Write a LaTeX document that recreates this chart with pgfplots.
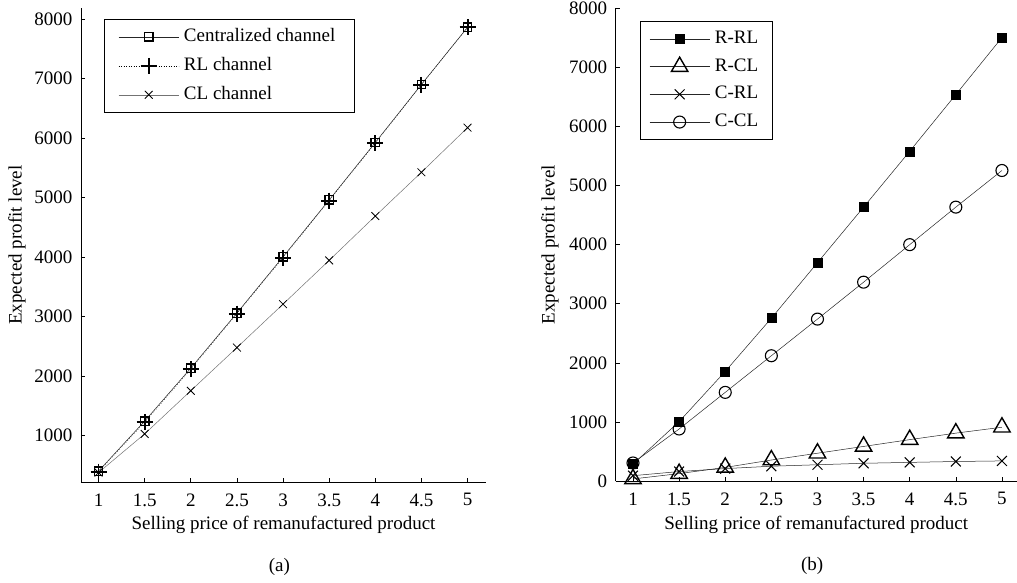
\documentclass[border=0pt]{standalone}
\usepackage{fontspec}
\setmainfont{Liberation Serif}
\usepackage{pgfplots}
\pgfplotsset{compat=1.18}
\pgfplotsset{
  mystyle/.style={
    scale only axis, clip=false,
    axis x line*=bottom, axis y line*=left,
    axis line style={black, line width=0.7pt, -},
    tick align=inside, major tick length=4pt,
    tick style={black, line width=0.6pt},
    xtick={1,1.5,2,2.5,3,3.5,4,4.5,5},
    ytick={0,1000,2000,3000,4000,5000,6000,7000,8000},
    scaled ticks=false,
    /pgf/number format/assume math mode=true,
    /pgf/number format/1000 sep={},
    ticklabel style={font=\fontsize{19}{22}\selectfont},
    label style={font=\fontsize{19}{22}\selectfont},
    xticklabel style={yshift=-5pt},
    yticklabel style={xshift=-2pt},
    legend cell align=left,
    legend style={draw=black, line width=0.8pt, fill=white,
      font=\fontsize{19}{22}\selectfont, anchor=north west,
      inner xsep=12pt, inner ysep=6pt,
      nodes={text height=13pt, text depth=4pt, inner ysep=3pt, inner xsep=5pt}, row sep=6pt},
    legend image code/.code={\draw[mark repeat=2,mark phase=2] plot coordinates {(0pt,0pt)(30pt,0pt)(60pt,0pt)};},
    every axis plot/.append style={line width=0.5pt},
  }
}
\begin{document}
\fontsize{19}{22}\selectfont
\begin{tikzpicture}[x=1pt,y=1pt]
\useasboundingbox (0,0) rectangle (1017,583);
\begin{axis}[mystyle,
  at={(81pt,101pt)}, anchor=south west,
  width=405pt, height=474pt,
  xmin=0.81, xmax=5.2, ymin=222, ymax=8185,
  ytick={1000,2000,3000,4000,5000,6000,7000,8000},
  xlabel={Selling price of remanufactured product},
  ylabel={Expected profit level},
  xlabel style={at={(axis description cs:0.5,-0.09)}, anchor=center},
  ylabel style={at={(axis description cs:-0.158,0.5)}, anchor=center},
  legend style={at={(0.057,0.977)}, inner xsep=14pt},
]
\addplot[black!85, mark=square, mark size=4.2pt, mark options={solid, black, line width=1.4pt}] coordinates {
(1,405)(1.5,1245)(2,2135)(2.5,3060)(3,4005)(3.5,4960)(4,5925)(4.5,6900)(5,7860)};
\addlegendentry{Centralized channel}
\addplot[black, dotted, mark=+, mark size=8pt, mark options={solid, black, line width=1.9pt}] coordinates {
(1,395)(1.5,1225)(2,2115)(2.5,3050)(3,3990)(3.5,4950)(4,5915)(4.5,6895)(5,7860)};
\addlegendentry{RL channel}
\addplot[black!55, mark=x, mark size=5.5pt, mark options={solid, black, line width=0.8pt}] coordinates {
(1,380)(1.5,1030)(2,1755)(2.5,2480)(3,3210)(3.5,3945)(4,4690)(4.5,5425)(5,6175)};
\addlegendentry{CL channel}
\node at (axis description cs:0.49,-0.179) {(a)};
\end{axis}
\begin{axis}[mystyle,
  at={(615.7pt,102pt)}, anchor=south west,
  width=401pt, height=472.7pt,
  xmin=0.8125, xmax=5.16, ymin=0, ymax=8000,
  xlabel={Selling price of remanufactured product},
  ylabel={Expected profit level},
  xlabel style={at={(axis description cs:0.5,-0.092)}, anchor=center},
  ylabel style={at={(axis description cs:-0.164,0.5)}, anchor=center},
  legend style={at={(0.0606,0.973)}, row sep=4.7pt, inner xsep=9pt},
]
\addplot[black!85, mark=square*, mark size=4.5pt, mark options={black}] coordinates {
(1,285)(1.5,1005)(2,1855)(2.5,2755)(3,3695)(3.5,4635)(4,5580)(4.5,6540)(5,7505)};
\addlegendentry{R-RL}
\addplot[black!85, mark=triangle, mark size=9.5pt, mark options={black, fill=white, line width=1.4pt}] coordinates {
(1,35)(1.5,125)(2,230)(2.5,355)(3,470)(3.5,585)(4,700)(4.5,810)(5,910)};
\addlegendentry{R-CL}
\addplot[black!85, mark=x, mark size=7pt, mark options={black, line width=1pt}] coordinates {
(1,90)(1.5,160)(2,210)(2.5,250)(3,275)(3.5,300)(4,315)(4.5,330)(5,340)};
\addlegendentry{C-RL}
\addplot[black!85, mark=o, mark size=6pt, mark options={black, fill=white, line width=1.1pt}] coordinates {
(1,305)(1.5,880)(2,1500)(2.5,2120)(3,2740)(3.5,3365)(4,4000)(4.5,4635)(5,5255)};
\addlegendentry{C-CL}
\node at (axis description cs:0.49,-0.18) {(b)};
\end{axis}
\end{tikzpicture}
\end{document}
